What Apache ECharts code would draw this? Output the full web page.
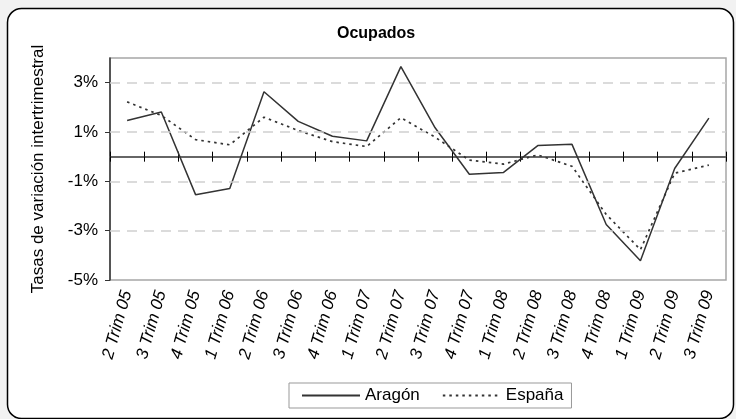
<!DOCTYPE html>
<html>
<head>
<meta charset="utf-8">
<script src="https://cdn.jsdelivr.net/npm/echarts@6/dist/echarts.min.js"></script>
<style>
html,body{margin:0;padding:0;background:#f2f2f2;}
#c{width:736px;height:419px;}
</style>
</head>
<body>
<div id="c"></div>
<script>
const categories = ['2 Trim 05','3 Trim 05','4 Trim 05','1 Trim 06','2 Trim 06','3 Trim 06','4 Trim 06','1 Trim 07','2 Trim 07','3 Trim 07','4 Trim 07','1 Trim 08','2 Trim 08','3 Trim 08','4 Trim 08','1 Trim 09','2 Trim 09','3 Trim 09'];
const aragon = [1.47, 1.81, -1.54, -1.29, 2.63, 1.43, 0.83, 0.64, 3.65, 1.17, -0.71, -0.64, 0.45, 0.50, -2.75, -4.22, -0.48, 1.56];
const espana = [2.22, 1.67, 0.69, 0.48, 1.60, 1.06, 0.61, 0.41, 1.58, 0.79, -0.14, -0.30, 0.07, -0.39, -2.34, -3.77, -0.67, -0.34];
const yTicks = [-5, -3, -1, 1, 3];
const yMin = -5, yMax = 4;

const FONT = 'Liberation Sans';
const chart = echarts.init(document.getElementById('c'), null, {renderer: 'canvas'});
const hiddenLabels = {show: false};
chart.setOption({
  animation: false,
  backgroundColor: '#f2f2f2',
  graphic: [{
    type: 'rect', z: -10, silent: true,
    shape: {x: 7.5, y: 8.5, width: 726, height: 410, r: 14},
    style: {fill: '#fff', stroke: '#000', lineWidth: 1.5}
  }],
  title: {
    text: 'Ocupados', left: 332, top: 21,
    textStyle: {fontFamily: FONT, fontSize: 16, fontWeight: 'bold', color: '#000'}
  },
  legend: {
    left: 289, top: 383, padding: [4, 8, 4, 12],
    borderColor: '#999', borderWidth: 1, backgroundColor: '#fff',
    itemWidth: 58, itemHeight: 14, itemGap: 22,
    itemStyle: {opacity: 0},
    textStyle: {fontFamily: FONT, fontSize: 17, color: '#000'},
    data: ['Aragón', 'España']
  },
  grid: {left: 110, right: 10, top: 58, bottom: 139, show: true, borderColor: '#a6a6a6', borderWidth: 1.5},
  xAxis: [
    {type: 'category', data: categories, position: 'bottom', boundaryGap: true,
     axisLine: {show: false, onZero: false}, axisTick: {show: false},
     axisLabel: {interval: 0, rotate: 74, margin: 11, fontFamily: FONT, fontSize: 17, fontStyle: 'italic', color: '#000'}},
    {type: 'category', data: categories, position: 'bottom', boundaryGap: true,
     axisLine: {show: true, onZero: true, onZeroAxisIndex: 0, lineStyle: {color: '#666', width: 2}},
     axisTick: {show: true, length: 5, interval: 0, lineStyle: {color: '#000', width: 1}},
     axisLabel: hiddenLabels},
    {type: 'category', data: categories, position: 'top', boundaryGap: true,
     axisLine: {show: false, onZero: true, onZeroAxisIndex: 0},
     axisTick: {show: true, length: 5, interval: 0, lineStyle: {color: '#000', width: 1}},
     axisLabel: hiddenLabels}
  ],
  yAxis: {
    type: 'value', min: yMin, max: yMax,
    name: 'Tasas de variación intertrimestral', nameLocation: 'middle', nameGap: 63,
    nameTextStyle: {fontFamily: FONT, fontSize: 17, color: '#000'},
    axisLine: {show: true, onZero: false, lineStyle: {color: '#333', width: 1.5}},
    axisTick: {show: true, length: 5, customValues: yTicks, lineStyle: {color: '#333'}},
    axisLabel: {customValues: yTicks, formatter: v => v + '%', fontFamily: FONT, fontSize: 17, color: '#000', margin: 12},
    splitLine: {show: false}
  },
  series: [
    {name: 'grid', type: 'line', data: [], z: 1, silent: true,
     markLine: {silent: true, symbol: 'none', label: {show: false},
       lineStyle: {color: '#cfcfcf', type: [10, 7], width: 1.5},
       data: yTicks.filter(v => v > yMin).map(v => ({yAxis: v}))}},
    {name: 'Aragón', type: 'line', data: aragon, symbol: 'none', z: 3,
     lineStyle: {color: '#333', width: 1.5}, itemStyle: {color: '#333'}},
    {name: 'España', type: 'line', data: espana, symbol: 'none', z: 3,
     lineStyle: {color: '#333', width: 1.7, type: [2.5, 4]}, itemStyle: {color: '#333'}}
  ]
});
</script>
</body>
</html>
